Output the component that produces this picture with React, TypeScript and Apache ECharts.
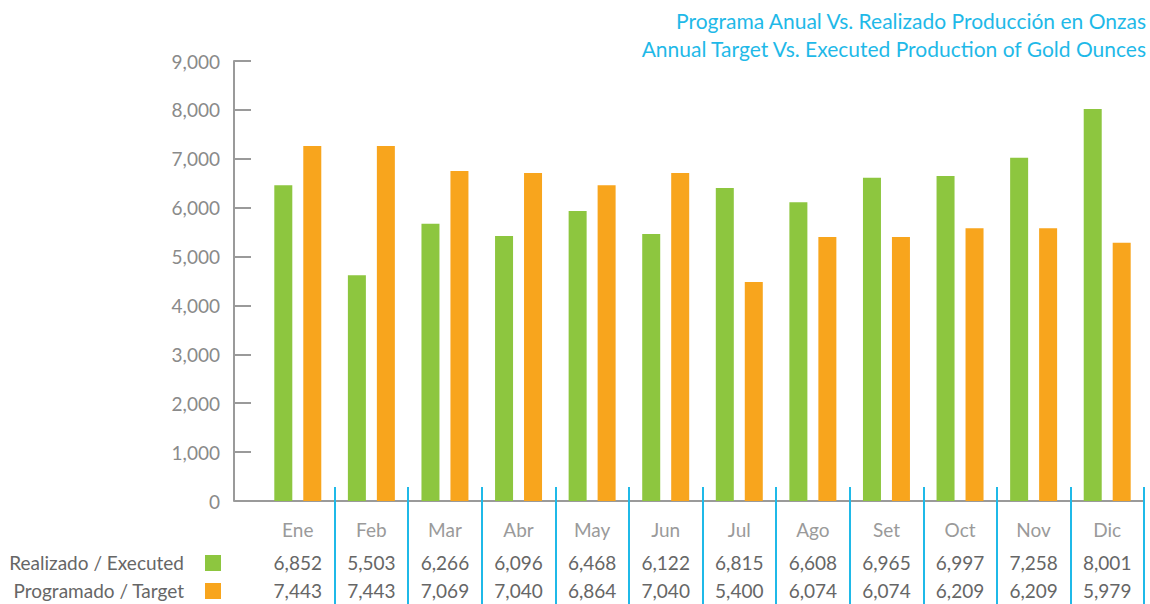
import React, { useEffect, useRef } from "react";
import * as echarts from "echarts";

const months = ["Ene", "Feb", "Mar", "Abr", "May", "Jun", "Jul", "Ago", "Set", "Oct", "Nov", "Dic"];
// values printed in the table under the chart
const executedTable = [6852, 5503, 6266, 6096, 6468, 6122, 6815, 6608, 6965, 6997, 7258, 8001];
const targetTable = [7443, 7443, 7069, 7040, 6864, 7040, 5400, 6074, 6074, 6209, 6209, 5979];
// bar heights as drawn in the picture
const executedBars = [6460, 4620, 5670, 5420, 5930, 5460, 6400, 6110, 6610, 6650, 7020, 8020];
const targetBars = [7260, 7260, 6750, 6710, 6460, 6710, 4480, 5400, 5400, 5580, 5580, 5280];
const yTicks = { min: 0, max: 9000, interval: 1000 };
const titleLines = [
  "Programa Anual Vs. Realizado Producción en Onzas",
  "Annual Target Vs. Executed Production of Gold Ounces",
];
const seriesNames = ["Realizado / Executed", "Programado / Target"];

const GREEN = "#8dc63f";
const ORANGE = "#f8a51d";
const CYAN = "#1fb9e8";
const FONT = "Lato, 'Open Sans', sans-serif";

const fmt = (v: number) => v.toLocaleString("en-US");

export default function App() {
  const ref = useRef<HTMLDivElement>(null);
  useEffect(() => {
    const chart = echarts.init(ref.current!, null, { renderer: "svg" });
    const tickInterval = (i: number) => i !== 0;
    chart.setOption({
      animation: false,
      grid: { left: 261, right: 6, top: 61, bottom: 103 },
      xAxis: [
        {
          type: "category",
          data: months,
          position: "bottom",
          axisLine: { show: true, lineStyle: { color: "#9a9a9a", width: 2 } },
          axisTick: { show: true, inside: false, length: 103, interval: tickInterval, lineStyle: { color: CYAN, width: 2 } },
          axisLabel: {
            interval: 0,
            margin: 9,
            formatter: (value: string, index: number) =>
              `{m|${value}}\n{a|${fmt(executedTable[index])}}\n{b|${fmt(targetTable[index])}}`,
            rich: {
              m: { fontSize: 19, color: "#9a9a9a", lineHeight: 38, fontFamily: FONT },
              a: { fontSize: 19, color: "#666", lineHeight: 28, fontFamily: FONT },
              b: { fontSize: 19, color: "#666", lineHeight: 28, fontFamily: FONT },
            },
          },
          splitLine: { show: false },
        },
        {
          type: "category",
          data: months,
          position: "top",
          offset: -440,
          axisLine: { show: false },
          axisTick: { show: true, inside: false, length: 14, interval: tickInterval, lineStyle: { color: CYAN, width: 2 } },
          axisLabel: { show: false },
          splitLine: { show: false },
        },
      ],
      yAxis: {
        type: "value",
        min: yTicks.min,
        max: yTicks.max,
        interval: yTicks.interval,
        offset: 27,
        axisLine: { show: true, lineStyle: { color: "#9a9a9a", width: 2 } },
        axisTick: { show: true, inside: true, length: 17, lineStyle: { color: "#9a9a9a", width: 2 } },
        axisLabel: { margin: 14, color: "#8a8a8a", fontSize: 19, fontFamily: FONT, formatter: (v: number) => fmt(v) },
        splitLine: { show: false },
      },
      series: [
        {
          name: seriesNames[0],
          type: "bar",
          data: executedBars,
          barWidth: 18,
          barGap: "61%",
          itemStyle: { color: GREEN },
        },
        {
          name: seriesNames[1],
          type: "bar",
          data: targetBars,
          barWidth: 18,
          barGap: "61%",
          itemStyle: { color: ORANGE },
        },
      ],
      graphic: [
        {
          type: "text",
          x: 1146,
          y: 6,
          style: {
            text: titleLines.join("\n"),
            textAlign: "right",
            textVerticalAlign: "top",
            fontSize: 21,
            lineHeight: 28,
            fill: CYAN,
            fontFamily: FONT,
          },
        },
        { type: "line", shape: { x1: 234, y1: 501, x2: 262, y2: 501 }, style: { stroke: "#9a9a9a", lineWidth: 2 } },
        {
          type: "text",
          x: 184,
          y: 562,
          style: { text: seriesNames[0], textAlign: "right", textVerticalAlign: "middle", fontSize: 19, fill: "#666", fontFamily: FONT },
        },
        {
          type: "text",
          x: 184,
          y: 590,
          style: { text: seriesNames[1], textAlign: "right", textVerticalAlign: "middle", fontSize: 19, fill: "#666", fontFamily: FONT },
        },
        { type: "rect", shape: { x: 205, y: 555, width: 16, height: 16 }, style: { fill: GREEN } },
        { type: "rect", shape: { x: 205, y: 583, width: 16, height: 16 }, style: { fill: ORANGE } },
      ],
    });
    return () => chart.dispose();
  }, []);
  return <div ref={ref} style={{ position: "absolute", left: 0, top: 0, width: 1150, height: 604 }} />;
}
